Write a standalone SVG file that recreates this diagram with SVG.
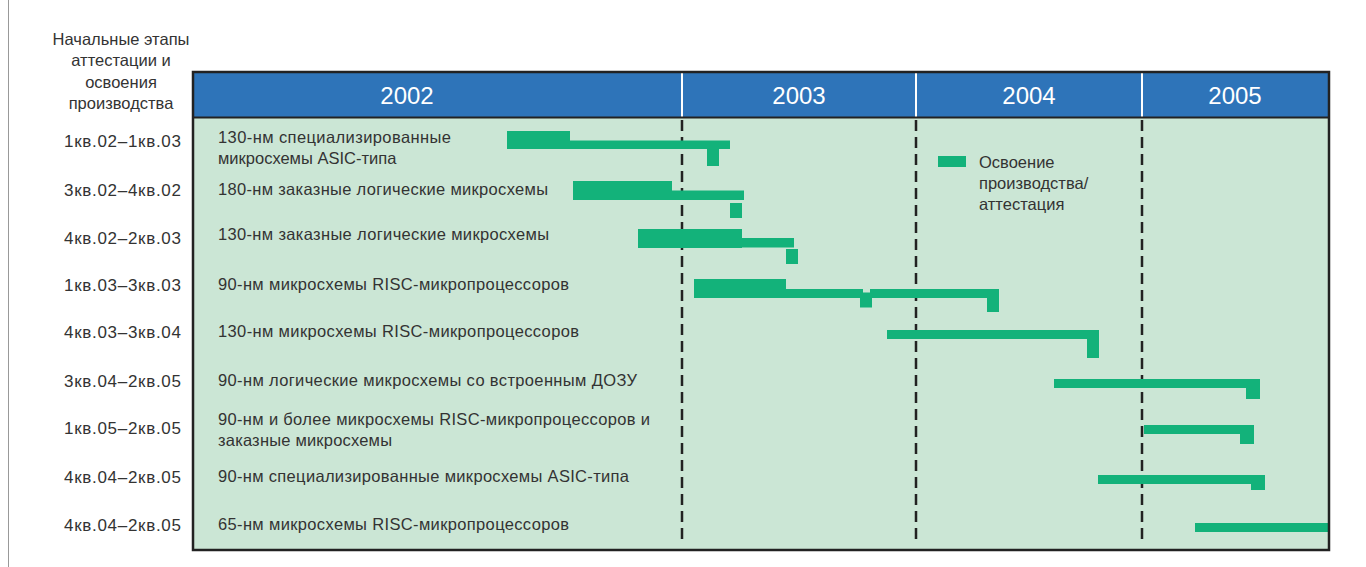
<svg xmlns="http://www.w3.org/2000/svg" width="1366" height="567" viewBox="0 0 1366 567">
<style>
.lbl{font-family:"Liberation Sans",Arial,sans-serif;font-size:16.5px;fill:#333}
.hd{font-family:"Liberation Sans",Arial,sans-serif;font-size:24px;fill:#fff;text-anchor:middle}
.ql{font-family:"Liberation Sans",Arial,sans-serif;font-size:17px;fill:#333;text-anchor:end}
.tl{font-family:"Liberation Sans",Arial,sans-serif;font-size:16.5px;fill:#333;text-anchor:middle}
.bar{fill:#13B27A}
.dash{stroke:#222;stroke-width:2.5;stroke-dasharray:11 6;fill:none}
</style>
<rect width="1366" height="567" fill="#fff"/>
<line x1="8.5" y1="0" x2="8.5" y2="567" stroke="#999" stroke-width="1"/>
<g id="title">
<text class="tl" x="121" y="45">Начальные этапы</text>
<text class="tl" x="121" y="66">аттестации и</text>
<text class="tl" x="121" y="88">освоения</text>
<text class="tl" x="121" y="109">производства</text>
</g>
<g id="chart">
<rect x="193" y="72" width="1136" height="478" fill="#CBE6D5"/>
<rect x="193" y="72" width="1136" height="46" fill="#2E74B9"/>
<line x1="682" y1="72" x2="682" y2="117" stroke="#fff" stroke-width="2"/>
<line x1="916" y1="72" x2="916" y2="117" stroke="#fff" stroke-width="2"/>
<line x1="1142" y1="72" x2="1142" y2="117" stroke="#fff" stroke-width="2"/>
<line x1="193" y1="117.5" x2="1329" y2="117.5" stroke="#222" stroke-width="2"/>
<text class="hd" x="407" y="104">2002</text>
<text class="hd" x="799" y="104">2003</text>
<text class="hd" x="1029" y="104">2004</text>
<text class="hd" x="1235" y="104">2005</text>
</g>
<g id="gridlines">
<line class="dash" x1="682" y1="120" x2="682" y2="544"/>
<line class="dash" x1="916" y1="120" x2="916" y2="544"/>
<line class="dash" x1="1142" y1="120" x2="1142" y2="544"/>
</g>
<g id="legend">
<rect class="bar" x="938" y="156" width="28" height="11"/>
<text class="lbl" x="979" y="168">Освоение</text>
<text class="lbl" x="979" y="189">производства/</text>
<text class="lbl" x="979" y="210">аттестация</text>
</g>
<g id="row1">
<text class="ql" x="181" y="147" textLength="117">1кв.02–1кв.03</text>
<text class="lbl" x="218" y="143" textLength="233">130-нм специализированные</text>
<text class="lbl" x="218" y="164">микросхемы ASIC-типа</text>
<rect class="bar" x="507" y="131" width="63" height="18"/>
<rect class="bar" x="570" y="140.5" width="160" height="8.5"/>
<rect class="bar" x="707" y="149" width="12" height="17"/>
</g>
<g id="row2">
<text class="ql" x="181" y="196" textLength="117">3кв.02–4кв.02</text>
<text class="lbl" x="218" y="195" textLength="330">180-нм заказные логические микросхемы</text>
<rect class="bar" x="573" y="181" width="99" height="19"/>
<rect class="bar" x="672" y="190.5" width="72" height="9.5"/>
<rect class="bar" x="730" y="203" width="12" height="15"/>
</g>
<g id="row3">
<text class="ql" x="181" y="244" textLength="117">4кв.02–2кв.03</text>
<text class="lbl" x="218" y="240" textLength="331">130-нм заказные логические микросхемы</text>
<rect class="bar" x="638" y="229" width="104" height="19"/>
<rect class="bar" x="742" y="238" width="52" height="9.5"/>
<rect class="bar" x="786" y="249" width="12" height="15"/>
</g>
<g id="row4">
<text class="ql" x="181" y="291" textLength="117">1кв.03–3кв.03</text>
<text class="lbl" x="218" y="290" textLength="351">90-нм микросхемы RISC-микропроцессоров</text>
<rect class="bar" x="694" y="279" width="92" height="19"/>
<rect class="bar" x="786" y="289" width="77" height="9"/>
<rect class="bar" x="860" y="292.5" width="12" height="15"/>
<rect class="bar" x="870" y="289" width="129" height="9"/>
<rect class="bar" x="987" y="289" width="12" height="23"/>
</g>
<g id="row5">
<text class="ql" x="181" y="338" textLength="117">4кв.03–3кв.04</text>
<text class="lbl" x="218" y="337" textLength="361">130-нм микросхемы RISC-микропроцессоров</text>
<rect class="bar" x="887" y="330" width="212" height="9"/>
<rect class="bar" x="1087" y="330" width="12" height="28"/>
</g>
<g id="row6">
<text class="ql" x="181" y="387" textLength="117">3кв.04–2кв.05</text>
<text class="lbl" x="218" y="386" textLength="419">90-нм логические микросхемы со встроенным ДОЗУ</text>
<rect class="bar" x="1054" y="379" width="206" height="9"/>
<rect class="bar" x="1246" y="379" width="14" height="20"/>
</g>
<g id="row7">
<text class="ql" x="181" y="434" textLength="117">1кв.05–2кв.05</text>
<text class="lbl" x="218" y="425" textLength="432">90-нм и более микросхемы RISC-микропроцессоров и</text>
<text class="lbl" x="218" y="446" textLength="174">заказные микросхемы</text>
<rect class="bar" x="1144" y="425" width="110" height="9"/>
<rect class="bar" x="1240" y="425" width="14" height="19"/>
</g>
<g id="row8">
<text class="ql" x="181" y="483" textLength="117">4кв.04–2кв.05</text>
<text class="lbl" x="218" y="482" textLength="411">90-нм специализированные микросхемы ASIC-типа</text>
<rect class="bar" x="1098" y="475" width="167" height="9"/>
<rect class="bar" x="1251" y="475" width="14" height="15"/>
</g>
<g id="row9">
<text class="ql" x="181" y="531" textLength="117">4кв.04–2кв.05</text>
<text class="lbl" x="218" y="530" textLength="351">65-нм микросхемы RISC-микропроцессоров</text>
<rect class="bar" x="1195" y="523" width="133" height="9"/>
</g>
<rect x="193" y="72" width="1136" height="478" fill="none" stroke="#222" stroke-width="2.5"/>
</svg>
